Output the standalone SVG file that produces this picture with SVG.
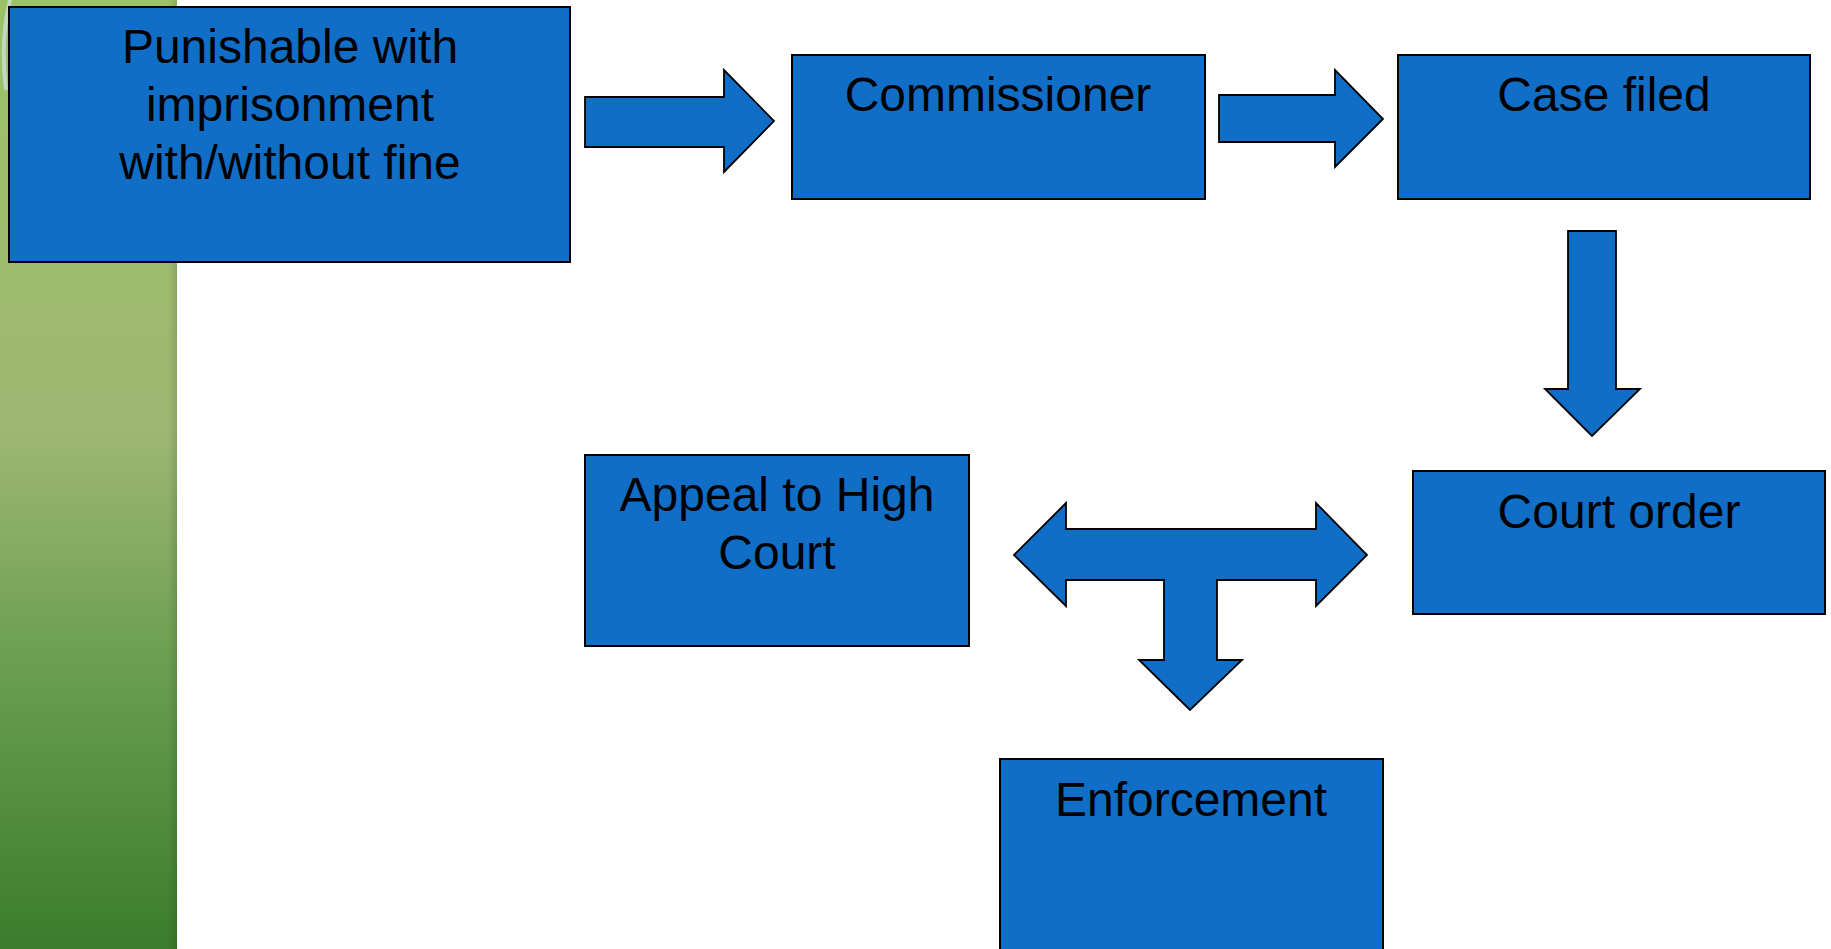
<svg xmlns="http://www.w3.org/2000/svg" width="1831" height="949" viewBox="0 0 1831 949">
<defs>
<linearGradient id="green" x1="0" y1="0" x2="0" y2="1">
<stop offset="0" stop-color="#9cc267"/>
<stop offset="0.45" stop-color="#9eb873"/>
<stop offset="0.7" stop-color="#6b9e50"/>
<stop offset="1" stop-color="#3a7d2c"/>
</linearGradient>
<linearGradient id="edge" x1="0" y1="0" x2="1" y2="0">
<stop offset="0" stop-color="#000" stop-opacity="0"/>
<stop offset="1" stop-color="#000" stop-opacity="0.12"/>
</linearGradient>
</defs>
<style>
.box{fill:#106ec6;stroke:#000;stroke-width:2}
.arr{fill:#106ec6;stroke:#000;stroke-width:1.8;stroke-linejoin:miter}
.t{font-family:"Liberation Sans",Arial,sans-serif;font-size:48px;fill:#000;text-anchor:middle}
</style>
<rect width="1831" height="949" fill="#fff"/>
<g id="sidebar">
<rect x="0" y="0" width="177" height="949" fill="url(#green)"/>
<rect x="168" y="0" width="9" height="949" fill="url(#edge)"/>
<path d="M10,0 Q0,40 6,90" fill="none" stroke="#cfe3e6" stroke-width="4" opacity="0.7"/>
</g>
<g id="connectors">
<polygon class="arr" points="585,97 724,97 724,70 774,121 724,172 724,147 585,147"/>
<polygon class="arr" points="1219,95 1335,95 1335,70 1383,119 1335,167 1335,142 1219,142"/>
<polygon class="arr" points="1568,231 1616,231 1616,389 1640,389 1592,436 1545,389 1568,389"/>
<polygon class="arr" points="1014,555 1066,503 1066,529 1316,529 1316,503 1367,555 1316,606 1316,580 1217,580 1217,660 1242,660 1190,710 1139,660 1164,660 1164,580 1066,580 1066,606"/>
</g>
<g id="n-punishable">
<rect class="box" x="9" y="7" width="561" height="255"/>
<text class="t" x="290" y="63">Punishable with</text>
<text class="t" x="290" y="121">imprisonment</text>
<text class="t" x="290" y="179">with/without fine</text>
</g>
<g id="n-commissioner">
<rect class="box" x="792" y="55" width="413" height="144"/>
<text class="t" x="998" y="111">Commissioner</text>
</g>
<g id="n-casefiled">
<rect class="box" x="1398" y="55" width="412" height="144"/>
<text class="t" x="1604" y="111">Case filed</text>
</g>
<g id="n-courtorder">
<rect class="box" x="1413" y="471" width="412" height="143"/>
<text class="t" x="1619" y="528">Court order</text>
</g>
<g id="n-appeal">
<rect class="box" x="585" y="455" width="384" height="191"/>
<text class="t" x="777" y="511">Appeal to High</text>
<text class="t" x="777" y="569">Court</text>
</g>
<g id="n-enforcement">
<rect class="box" x="1000" y="759" width="383" height="200"/>
<text class="t" x="1191" y="816">Enforcement</text>
</g>
</svg>
